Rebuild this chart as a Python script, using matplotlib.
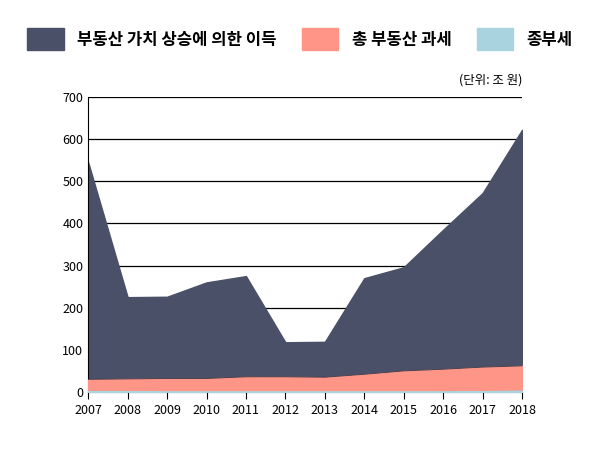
import matplotlib.pyplot as plt
from matplotlib.patches import Patch

plt.rcParams['font.family'] = ['Noto Sans CJK KR', 'DejaVu Sans']

years = list(range(2007, 2019))
gain = [545, 225, 226, 260, 275, 118, 119, 270, 296, 385, 472, 622]
tax = [30, 31, 32, 32, 36, 36, 35, 42, 50, 54, 59, 62]
jongbu = [2, 2, 1, 1, 1, 1, 1, 1, 1, 1, 2, 3]

fig = plt.figure(figsize=(6, 4.49), dpi=100)
ax = fig.add_axes([0.147, 0.127, 0.723, 0.657])

c_gain = '#4b5069'
c_tax = '#ff9587'
c_jb = '#a9d3de'
ax.fill_between(years, 0, gain, color=c_gain, zorder=2)
ax.fill_between(years, 0, tax, color=c_tax, zorder=3)
ax.plot(years, tax, color='#3a3a4a', lw=0.6, zorder=4)
ax.fill_between(years, 0, jongbu, color=c_jb, zorder=4)

ax.set_xlim(2007, 2018)
ax.set_ylim(0, 700)
ax.set_xticks(years)
ax.set_yticks(range(0, 701, 100))
ax.yaxis.grid(True, color='black', lw=0.9)
ax.set_axisbelow(True)
for s in ['top', 'right']:
    ax.spines[s].set_visible(False)
ax.tick_params(axis='y', length=0, labelsize=9)
ax.tick_params(axis='x', labelsize=9, length=5)

handles = [Patch(color=c_gain), Patch(color=c_tax), Patch(color=c_jb)]
labels = ['부동산 가치 상승에 의한 이득', '총 부동산 과세', '종부세']
fig.legend(handles, labels, loc='upper center', bbox_to_anchor=(0.5, 0.97), ncol=3,
           frameon=False, fontsize=12, handlelength=2.2, handleheight=1.6,
           columnspacing=1.5, prop={'weight': 'bold', 'size': 12})
fig.text(0.87, 0.815, '(단위: 조 원)', ha='right', fontsize=9)

fig.savefig('out.png', dpi=100)
